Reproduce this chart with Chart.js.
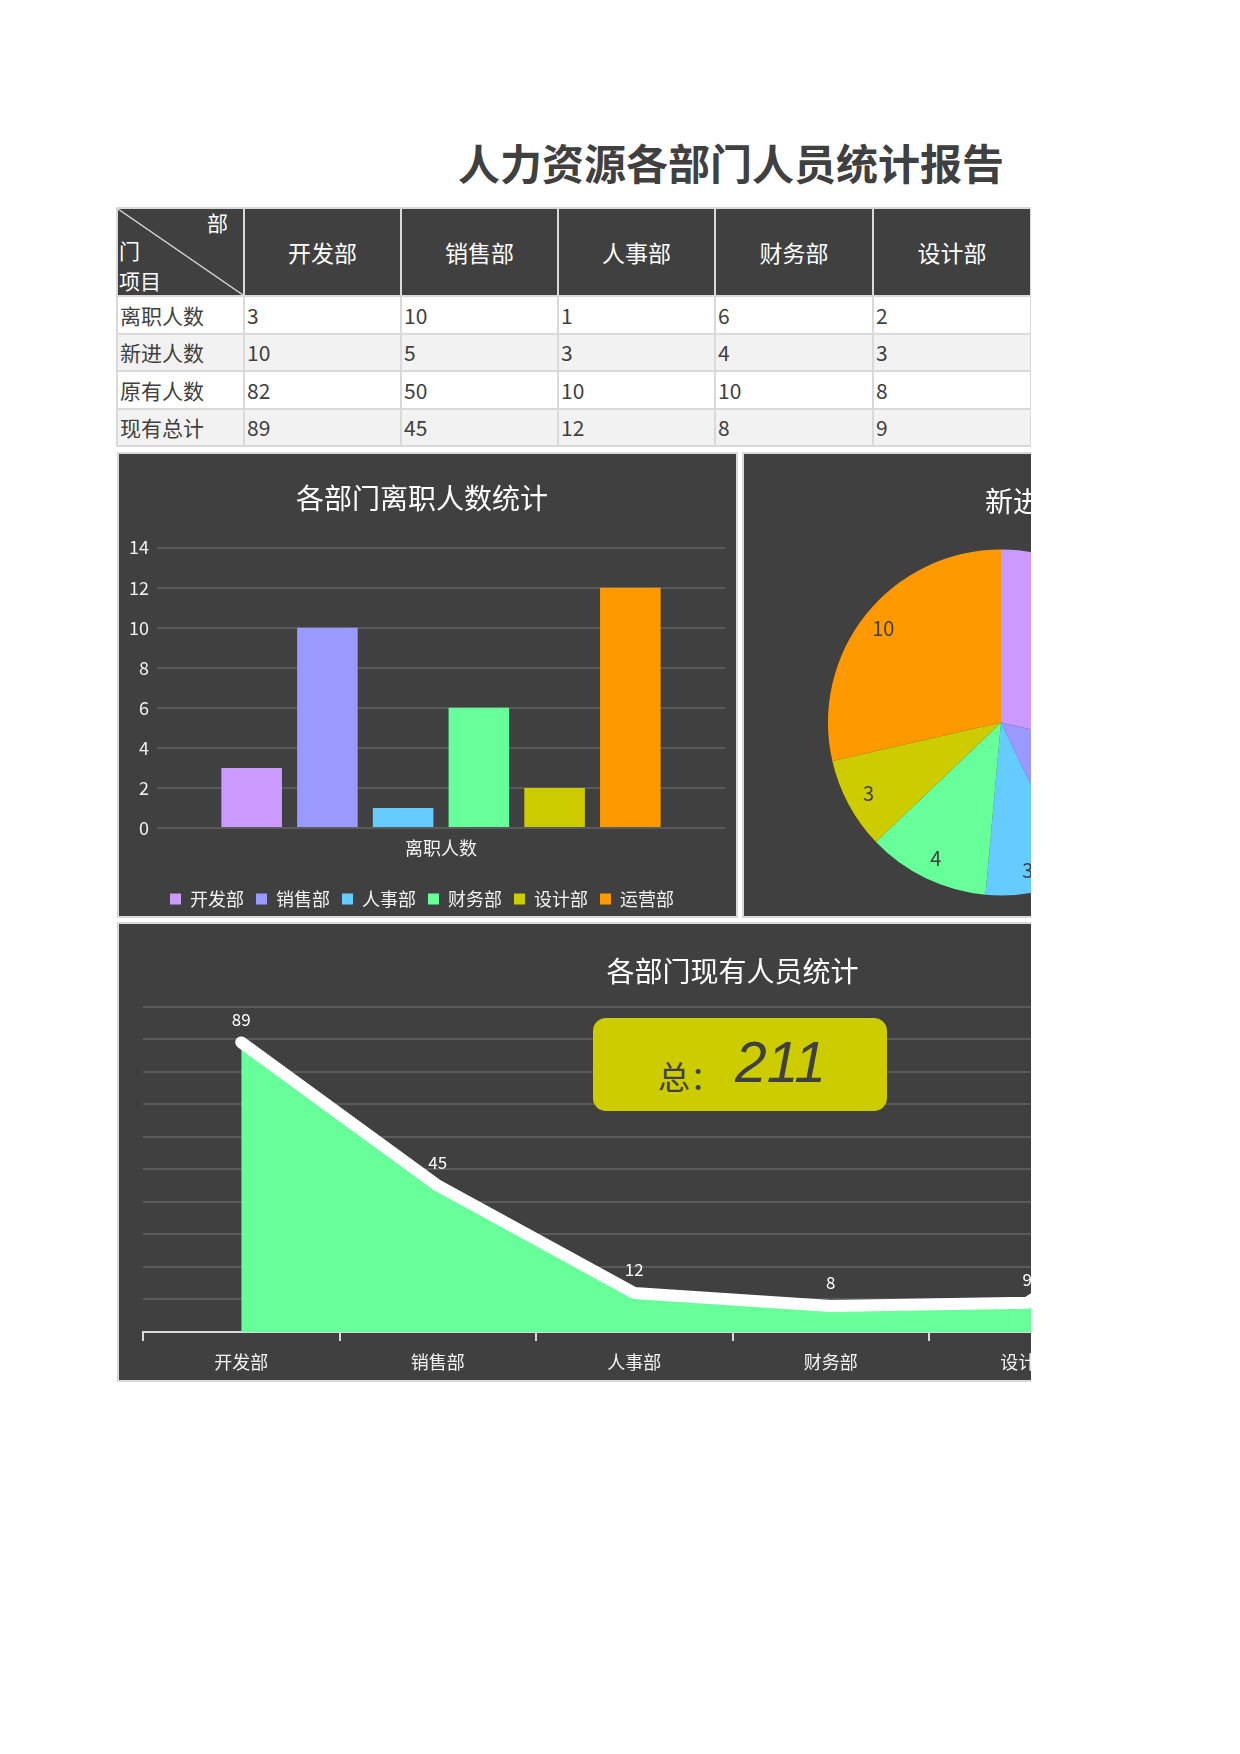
<!DOCTYPE html>
<html>
<head>
<meta charset="utf-8">
<title>人力资源各部门人员统计报告</title>
<script src="https://cdn.jsdelivr.net/npm/chart.js@4.4.1/dist/chart.umd.min.js"></script>
<style>
body { margin: 0; background: #fff; font-family: "Noto Sans CJK SC", sans-serif; }
#page { position: absolute; left: 0; top: 0; width: 1031px; height: 1754px; overflow: hidden; }
#title { position: absolute; left: 0; top: 136px; width: 1462px; text-align: center; font-size: 42px; line-height: 52px; font-weight: bold; color: #404040; }
#table { position: absolute; left: 116px; top: 207px; width: 1072px; border-collapse: collapse; table-layout: fixed; }
#table td { border: 2px solid #d9d9d9; padding: 0 2px; font-size: 21px; color: #404040; height: 35.5px; line-height: 24px; white-space: nowrap; overflow: hidden; }
#table tr.head td { background: #404040; color: #fff; text-align: center; height: 86px; font-size: 23px; }
#table tr.even td { background: #f2f2f2; }
#table tr.head td.corner { position: relative; text-align: left; background: linear-gradient(to top right, #404040 calc(50% - 1.2px), #e8e8e8 50%, #404040 calc(50% + 1.2px)); }
.corner span { position: absolute; color: #fff; font-size: 21px; line-height: 22px; }
.panel { position: absolute; background: #404040; border: 2px solid #d9d9d9; box-sizing: border-box; overflow: hidden; }
.panel canvas { position: absolute; left: 0; top: 0; }
.panelTitle { position: absolute; color: #fff; font-size: 28px; line-height: 34px; white-space: nowrap; }
#totalBox { position: absolute; left: 593px; top: 1018px; width: 294px; height: 93px; background: #cccc00; border-radius: 13px; color: #404040; }
#totalBox .lbl { position: absolute; left: 65px; top: 37px; font-size: 32px; line-height: 40px; }
#totalBox .num { position: absolute; left: 142px; top: 10px; font-size: 57px; line-height: 68px; font-style: italic; font-family: "Liberation Sans", sans-serif; }
</style>
</head>
<body>
<div id="page">
    <div id="title">人力资源各部门人员统计报告</div>
    <table id="table"></table>

    <div class="panel" style="left:117px; top:452px; width:621px; height:466px;">
        <canvas id="barChart" width="617" height="464"></canvas>
    </div>
    <div class="panel" style="left:742px; top:452px; width:653px; height:466px;">
        <canvas id="pieChart" width="649" height="462"></canvas>
        <div class="panelTitle" id="pieTitle" style="left:241px; top:29px;"></div>
    </div>
    <div class="panel" style="left:117px; top:922px; width:1230px; height:460px;">
        <canvas id="lineChart" width="1226" height="456"></canvas>
    </div>
    <div id="totalBox"><span class="lbl">总：</span><span class="num" id="totalNum"></span></div>
</div>

<script>
// data
const departments = ["开发部", "销售部", "人事部", "财务部", "设计部", "运营部"]
const rowNames = ["离职人数", "新进人数", "原有人数", "现有总计"]
const leaving = [3, 10, 1, 6, 2, 12]
const newHires = [10, 5, 3, 4, 3, 10]
const original = [82, 50, 10, 10, 8, 50]
const currentTotal = [89, 45, 12, 8, 9, 48]
const deptColors = ["#cc99ff", "#9999ff", "#66ccff", "#66ff99", "#cccc00", "#ff9900"]

const barTitle = "各部门离职人数统计"
const pieTitle = "新进人数统计"
const lineTitle = "各部门现有人员统计"

const panelText = "#f2f2f2"
const gridColor = "#5a5a5a"
const font = "'Noto Sans CJK SC', sans-serif"

Chart.defaults.font.family = font
Chart.defaults.color = panelText
Chart.defaults.animation = false

// table
const table = document.getElementById("table")
const colWidths = [127, 157, 157, 157, 158, 158, 158]
let html = "<colgroup>" + colWidths.map((w) => `<col style="width:${w}px">`).join("") + "</colgroup>"
html += `<tr class="head"><td class="corner"><span style="right:15px;top:2px">部</span><span style="left:1px;top:30px">门</span><span style="left:1px;top:60px">项目</span></td>`
html += departments.map((d) => `<td>${d}</td>`).join("") + "</tr>"
const rowValues = [leaving, newHires, original, currentTotal]
rowValues.forEach((vals, r) => {
    html += `<tr class="${r % 2 ? "even" : ""}"><td>${rowNames[r]}</td>`
    html += vals.map((v) => `<td>${v}</td>`).join("") + "</tr>"
})
table.innerHTML = html

document.getElementById("totalNum").textContent = currentTotal.reduce((a, b) => a + b, 0)
document.getElementById("pieTitle").textContent = pieTitle

// bar chart
new Chart(document.getElementById("barChart"), {
    type: "bar",
    data: {
        labels: [rowNames[0]],
        datasets: departments.map((d, i) => ({
            label: d,
            data: [leaving[i]],
            backgroundColor: deptColors[i],
            borderWidth: 0,
        })),
    },
    options: {
        responsive: false,
        categoryPercentage: 0.8,
        barPercentage: 0.8,
        layout: { padding: { left: 0, right: 11, top: 0, bottom: 0 } },
        plugins: {
            title: {
                display: true,
                text: barTitle,
                color: "#fff",
                font: { size: 28, weight: "normal" },
                padding: { top: 28, bottom: 32 },
            },
            legend: {
                position: "bottom",
                labels: { boxWidth: 11, boxHeight: 11, padding: 12, color: panelText, font: { size: 18 } },
            },
            tooltip: { enabled: false },
        },
        scales: {
            x: {
                grid: { display: false },
                border: { display: false },
                ticks: { color: panelText, font: { size: 18 }, padding: 1 },
                afterFit: (scale) => { scale.height = 50 },
            },
            y: {
                min: 0,
                max: 14,
                ticks: { stepSize: 2, color: panelText, font: { size: 18 }, padding: 8 },
                grid: { color: gridColor, lineWidth: 2, drawTicks: false },
                border: { display: false },
                afterFit: (scale) => { scale.width = 38 },
            },
        },
    },
})

// labels inside pie slices
const pieLabels = {
    id: "pieLabels",
    afterDatasetsDraw(chart) {
        const ctx = chart.ctx
        const meta = chart.getDatasetMeta(0)
        ctx.save()
        ctx.font = "20px " + font
        ctx.fillStyle = "#404040"
        ctx.textAlign = "center"
        ctx.textBaseline = "middle"
        meta.data.forEach((arc, i) => {
            const p = arc.getProps(["x", "y", "startAngle", "endAngle", "outerRadius"], true)
            const mid = (p.startAngle + p.endAngle) / 2
            const r = p.outerRadius * 0.87
            ctx.fillText(chart.data.datasets[0].data[i], p.x + Math.cos(mid) * r, p.y + Math.sin(mid) * r)
        })
        ctx.restore()
    },
}

new Chart(document.getElementById("pieChart"), {
    type: "pie",
    data: {
        labels: departments,
        datasets: [{ data: newHires, backgroundColor: deptColors, borderWidth: 0 }],
    },
    options: {
        responsive: false,
        layout: { padding: { left: 84, right: 219, top: 95, bottom: 20 } },
        plugins: {
            legend: { display: false },
            tooltip: { enabled: false },
        },
    },
    plugins: [pieLabels],
})

// value labels above the line
const lineLabels = {
    id: "lineLabels",
    afterDatasetsDraw(chart) {
        const ctx = chart.ctx
        const meta = chart.getDatasetMeta(0)
        ctx.save()
        ctx.font = "17px " + font
        ctx.fillStyle = "#fff"
        ctx.textAlign = "center"
        ctx.textBaseline = "middle"
        meta.data.forEach((pt, i) => {
            ctx.fillText(chart.data.datasets[0].data[i], pt.x, pt.y - 23)
        })
        ctx.restore()
    },
}

new Chart(document.getElementById("lineChart"), {
    type: "line",
    data: {
        labels: departments,
        datasets: [
            {
                label: "现有总计",
                data: currentTotal,
                borderColor: "#fff",
                borderWidth: 12,
                borderCapStyle: "round",
                borderJoinStyle: "round",
                pointRadius: 0,
                tension: 0,
                fill: false,
            },
            {
                label: "现有总计面积",
                data: currentTotal,
                backgroundColor: "#66ff99",
                borderWidth: 0,
                pointRadius: 0,
                tension: 0,
                fill: "origin",
            },
        ],
    },
    options: {
        responsive: false,
        layout: { padding: { left: 24, right: 23, top: 0, bottom: 0 } },
        plugins: {
            title: {
                display: true,
                text: lineTitle,
                color: "#fff",
                font: { size: 28, weight: "normal" },
                padding: { top: 31, bottom: 18 },
            },
            legend: { display: false },
            tooltip: { enabled: false },
        },
        scales: {
            x: {
                offset: true,
                grid: { offset: true, drawOnChartArea: false, drawTicks: true, tickLength: 9, color: "#d9d9d9", lineWidth: 2 },
                border: { display: true, color: "#d9d9d9", width: 2 },
                ticks: { color: panelText, font: { size: 18 }, padding: 10 },
                afterFit: (scale) => { scale.height = 48 },
            },
            y: {
                min: 0,
                max: 100,
                ticks: { display: false, stepSize: 10 },
                grid: { color: gridColor, lineWidth: 2, drawTicks: false },
                border: { display: false },
                afterFit: (scale) => { scale.width = 0 },
            },
        },
    },
    plugins: [lineLabels],
})
</script>
</body>
</html>
